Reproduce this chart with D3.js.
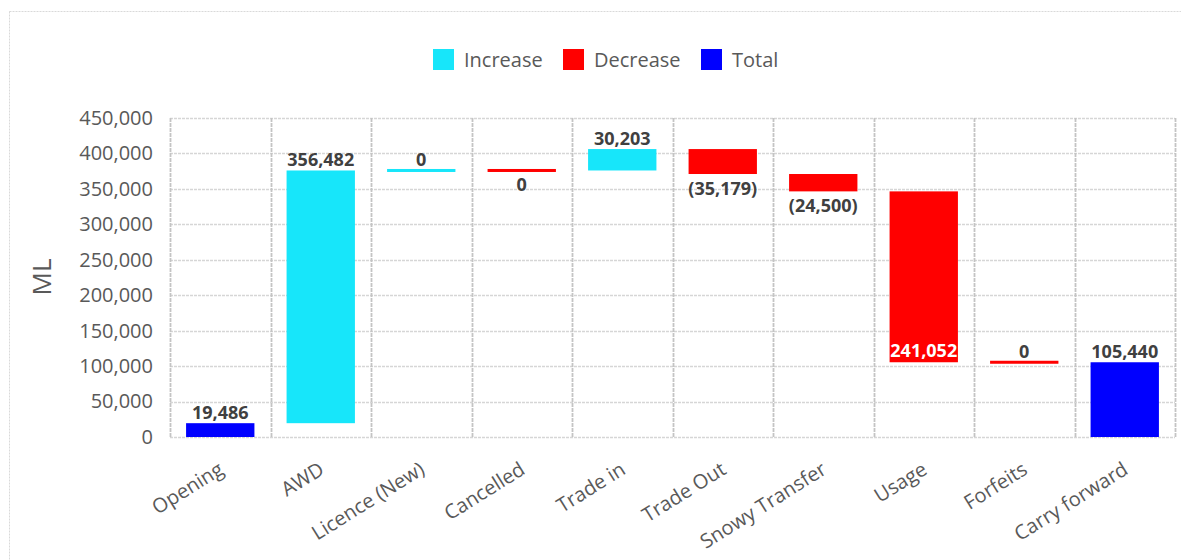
<!DOCTYPE html>
<html>
<head>
<meta charset="utf-8">
<script src="https://cdn.jsdelivr.net/npm/d3@7"></script>
<style>
  body { margin: 0; background: #fff; }
  svg { display: block; }
</style>
</head>
<body>
<svg id="chart" width="1181" height="560"></svg>
<script>
// waterfall data
const categories = ["Opening", "AWD", "Licence (New)", "Cancelled", "Trade in", "Trade Out", "Snowy Transfer", "Usage", "Forfeits", "Carry forward"];
const changes = [19486, 356482, 0, 0, 30203, -35179, -24500, -241052, 0, 105440];
const kinds = ["total", "increase", "increase", "decrease", "increase", "decrease", "decrease", "decrease", "decrease", "total"];
const yTicks = [0, 50000, 100000, 150000, 200000, 250000, 300000, 350000, 400000, 450000];
const legendItems = ["Increase", "Decrease", "Total"];

const colors = { increase: "#17e6fa", decrease: "#ff0000", total: "#0000ff" };
const legendKinds = ["increase", "decrease", "total"];

// build running totals
let running = 0;
let rows = categories.map(function(c, i) {
  let start, end;
  if (kinds[i] == "total") {
    start = 0;
    end = changes[i];
    running = changes[i];
  } else {
    start = running;
    end = running + changes[i];
    running = end;
  }
  return { cat: c, v: changes[i], kind: kinds[i], start: start, end: end };
});

const plotL = 170, plotR = 1175, plotT = 118, plotB = 437;
const svg = d3.select("#chart");

// outer frame
svg.append("rect")
  .attr("x", 9.5).attr("y", 11.5)
  .attr("width", 1190).attr("height", 560)
  .attr("fill", "none")
  .attr("stroke", "#d9d9d9")
  .attr("stroke-dasharray", "2,1");

const x = d3.scaleBand()
  .domain(categories)
  .range([plotL, plotR])
  .paddingInner(0)
  .paddingOuter(0);

const y = d3.scaleLinear()
  .domain([0, 450000])
  .range([plotB, plotT]);

const fmt = d3.format(",");

// horizontal grid
svg.append("g")
  .selectAll("line")
  .data(yTicks)
  .enter()
  .append("line")
    .attr("x1", plotL).attr("x2", plotR)
    .attr("y1", d => Math.round(y(d)) + 0.5)
    .attr("y2", d => Math.round(y(d)) + 0.5)
    .attr("stroke", "#d6d6d6")
    .attr("stroke-width", 1.5)
    .attr("stroke-dasharray", "3,1");

// vertical grid (band edges)
let edges = categories.map(c => x(c)).concat([plotR]);
svg.append("g")
  .selectAll("line")
  .data(edges)
  .enter()
  .append("line")
    .attr("x1", d => Math.round(d) + 0.5).attr("x2", d => Math.round(d) + 0.5)
    .attr("y1", plotT).attr("y2", plotB)
    .attr("stroke", "#c4c4c4")
    .attr("stroke-width", 1.8)
    .attr("stroke-dasharray", "4,1");

// y axis labels
const yAxis = d3.axisLeft(y).tickValues(yTicks).tickFormat(fmt).tickSize(0).tickPadding(17);
const yg = svg.append("g")
  .attr("transform", "translate(" + plotL + ",0)")
  .call(yAxis);
yg.select(".domain").remove();
yg.selectAll("text")
  .attr("fill", "#595959")
  .attr("font-family", "'Open Sans', sans-serif")
  .attr("font-size", "20px");

// y title
svg.append("text")
  .attr("transform", "translate(51,277) rotate(-90)")
  .attr("text-anchor", "middle")
  .attr("fill", "#595959")
  .attr("font-family", "'Open Sans', sans-serif")
  .attr("font-size", "26px")
  .text("ML");

const barW = x.bandwidth() * 0.68;
const off = (x.bandwidth() - barW) / 2;

// bars
svg.append("g")
  .selectAll("rect")
  .data(rows)
  .enter()
  .append("rect")
    .attr("fill", d => colors[d.kind])
    .attr("x", d => x(d.cat) + off)
    .attr("width", barW)
    .attr("y", d => d.v == 0 ? y(d.end) - 1.5 : y(Math.max(d.start, d.end)))
    .attr("height", d => d.v == 0 ? 3 : Math.abs(y(d.start) - y(d.end)));

// data labels
function labelText(d) {
  if (d.v < 0 && d.cat != "Usage") return "(" + fmt(-d.v) + ")";
  return fmt(Math.abs(d.v));
}
function labelY(d) {
  if (d.cat == "Usage") return y(d.end) - 5.5;
  if (d.kind == "decrease" && d.v < 0) return y(d.end) + 20.5;
  if (d.kind == "decrease" && d.cat == "Cancelled") return y(d.end) + 21;
  return y(Math.max(d.start, d.end)) - 4.5;
}
svg.append("g")
  .selectAll("text")
  .data(rows)
  .enter()
  .append("text")
    .attr("x", d => x(d.cat) + x.bandwidth() / 2)
    .attr("y", labelY)
    .attr("text-anchor", "middle")
    .attr("font-family", "'Open Sans', sans-serif")
    .attr("font-weight", "bold")
    .attr("font-size", "18px")
    .attr("fill", d => d.cat == "Usage" ? "#ffffff" : "#404040")
    .text(labelText);

// x labels
svg.append("g")
  .selectAll("text")
  .data(categories)
  .enter()
  .append("text")
    .attr("transform", d => "translate(" + (x(d) + x.bandwidth() / 2 + 1) + ",467) rotate(-32)")
    .attr("text-anchor", "end")
    .attr("dy", "0.35em")
    .attr("fill", "#595959")
    .attr("font-family", "'Open Sans', sans-serif")
    .attr("font-size", "20px")
    .text(d => d);

// legend
const legendX = [433, 563, 701];
const lg = svg.append("g");
legendItems.forEach(function(name, i) {
  lg.append("rect")
    .attr("x", legendX[i]).attr("y", 49)
    .attr("width", 21).attr("height", 21)
    .attr("fill", colors[legendKinds[i]]);
  lg.append("text")
    .attr("x", legendX[i] + 31).attr("y", 60)
    .attr("dy", "0.35em")
    .attr("fill", "#595959")
    .attr("font-family", "'Open Sans', sans-serif")
    .attr("font-size", "20px")
    .text(name);
});
</script>
</body>
</html>
